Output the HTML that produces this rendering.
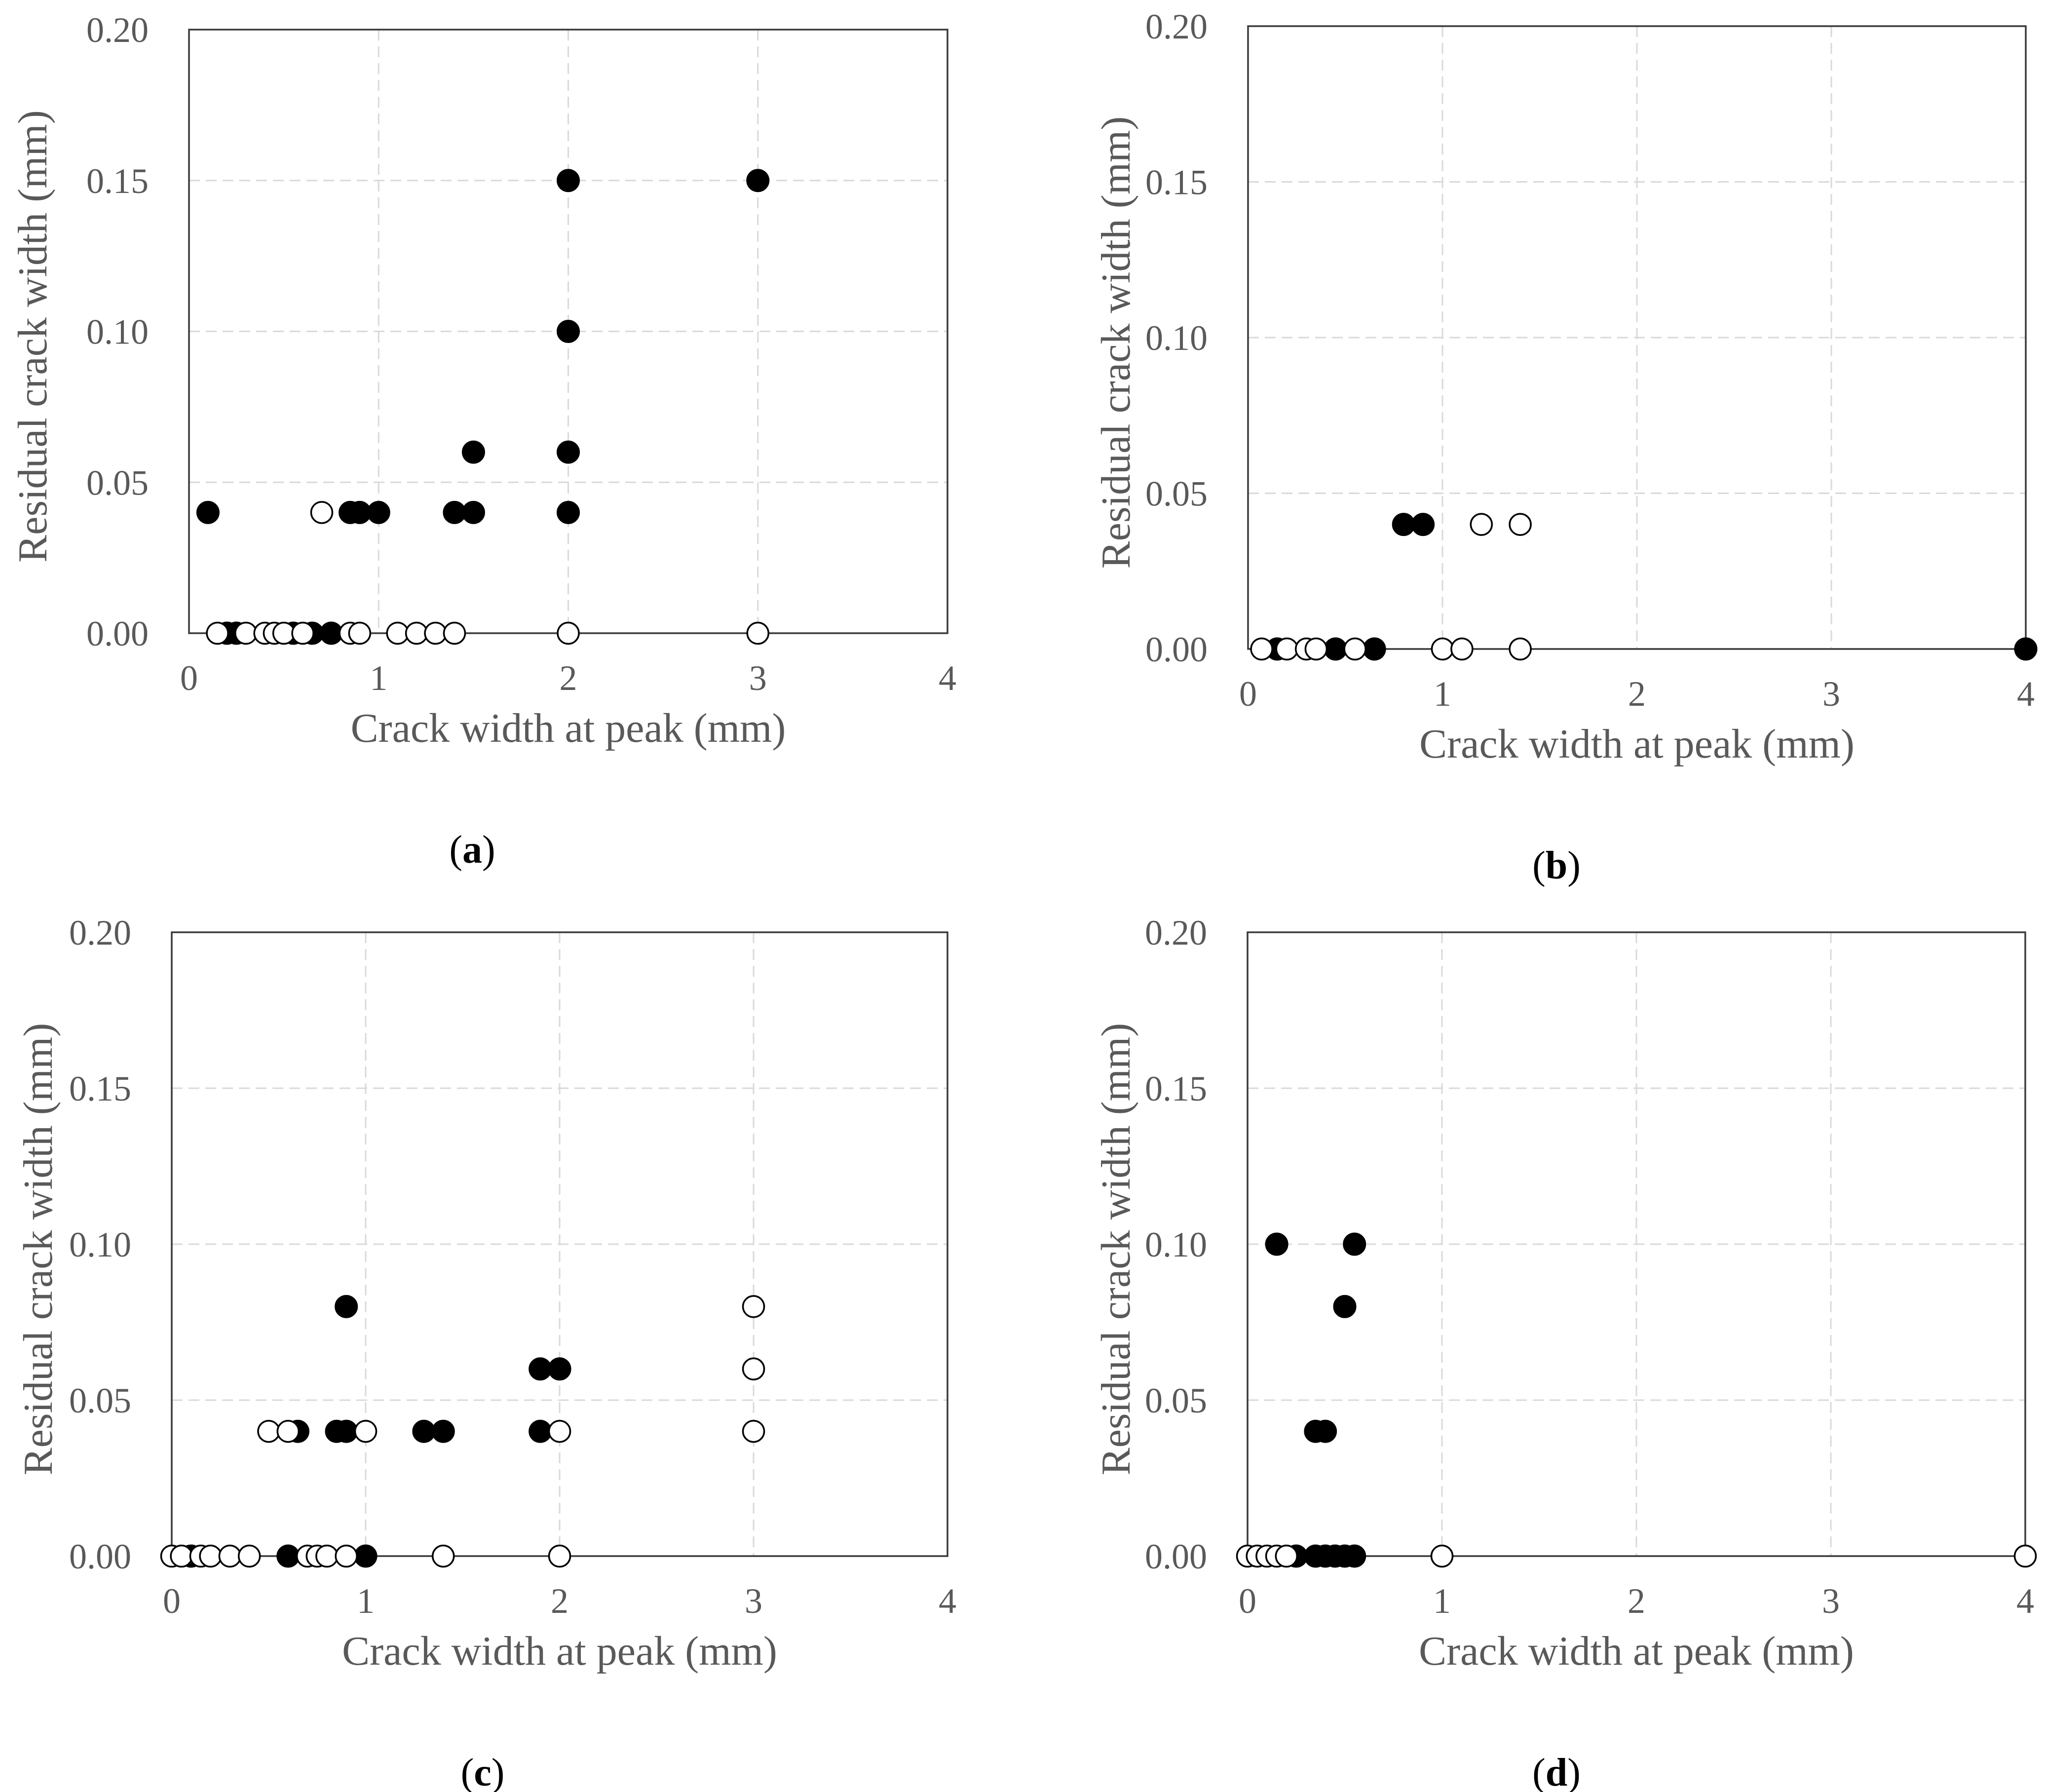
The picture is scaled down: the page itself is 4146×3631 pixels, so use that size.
<!DOCTYPE html>
<html><head><meta charset="utf-8"><style>
html,body{margin:0;padding:0;background:#fff;}
svg{display:block;}
text{font-family:"Liberation Serif",serif;}
</style></head>
<body>
<svg id="fig" width="4146" height="3631" viewBox="0 0 4146 3631" xmlns="http://www.w3.org/2000/svg"></svg>
<script>
// Panel (a)
const aFilledX = [0.1,0.85,0.9,1.0,1.4,1.5,1.5,2,2,2,2,3,0.2,0.25,0.55,0.65,0.75];
const aFilledY = [0.04,0.04,0.04,0.04,0.04,0.04,0.06,0.04,0.06,0.10,0.15,0.15,0,0,0,0,0];
const aOpenX = [0.7,0.15,0.3,0.4,0.45,0.5,0.6,0.85,0.9,1.1,1.2,1.3,1.4,2,3];
const aOpenY = [0.04,0,0,0,0,0,0,0,0,0,0,0,0,0,0];
// Panel (b)
const bFilledX = [0.8,0.9,0.15,0.45,0.65,4];
const bFilledY = [0.04,0.04,0,0,0,0];
const bOpenX = [1.2,1.4,0.07,0.2,0.3,0.35,0.55,1.0,1.1,1.4];
const bOpenY = [0.04,0.04,0,0,0,0,0,0,0,0];
// Panel (c)
const cFilledX = [0.9,0.85,0.9,0.65,1.3,1.4,1.9,1.9,2,0.1,0.6,1.0];
const cFilledY = [0.08,0.04,0.04,0.04,0.04,0.04,0.04,0.06,0.06,0,0,0];
const cOpenX = [0.5,0.6,1.0,2,3,3,3,0,0.05,0.15,0.2,0.3,0.4,0.7,0.75,0.8,0.9,1.4,2];
const cOpenY = [0.04,0.04,0.04,0.04,0.04,0.06,0.08,0,0,0,0,0,0,0,0,0,0,0,0];
// Panel (d)
const dFilledX = [0.15,0.55,0.5,0.35,0.4,0.25,0.35,0.4,0.45,0.5,0.55];
const dFilledY = [0.1,0.1,0.08,0.04,0.04,0,0,0,0,0,0];
const dOpenX = [0,0.05,0.1,0.15,0.2,1,4];
const dOpenY = [0,0,0,0,0,0,0];
// Axes
const xTicks = [0,1,2,3,4];
const yTicks = [0,0.05,0.10,0.15,0.20];
const yTickLabels = ["0.00","0.05","0.10","0.15","0.20"];
const xTitle = "Crack width at peak (mm)";
const yTitle = "Residual crack width (mm)";

const NS = "http://www.w3.org/2000/svg";
const svg = document.getElementById('fig');
function mk(tag, attrs, parent){
  const e = document.createElementNS(NS, tag);
  for (const k in attrs) e.setAttribute(k, attrs[k]);
  (parent||svg).appendChild(e);
  return e;
}
const panels = [
  {id:'a', L:383, R:1920, T:60, B:1283, fx:aFilledX, fy:aFilledY, ox:aOpenX, oy:aOpenY, letterX:957, yTitleX:66},
  {id:'b', L:2529, R:4105, T:53, B:1315, fx:bFilledX, fy:bFilledY, ox:bOpenX, oy:bOpenY, letterX:3154, yTitleX:2261},
  {id:'c', L:348, R:1920, T:1889, B:3153, fx:cFilledX, fy:cFilledY, ox:cOpenX, oy:cOpenY, letterX:978, yTitleX:77},
  {id:'d', L:2528, R:4104, T:1889, B:3153, fx:dFilledX, fy:dFilledY, ox:dOpenX, oy:dOpenY, letterX:3154, yTitleX:2261}
];
panels.forEach(p=>{
  const g = mk('g', {});
  
  
  const sx = v => p.L + (v/4)*(p.R-p.L);
  const sy = v => p.B - (v/0.2)*(p.B-p.T);
  xTicks.forEach(t=>{
    if (t===0||t===4) return;
    const l = mk('line',{x1:sx(t),x2:sx(t),y1:p.T,y2:p.B,stroke:'#d9d9d9','stroke-width':3,'stroke-dasharray':'22 12'},g);
    
    
  });
  yTicks.forEach(t=>{
    if (t===0||t===0.20) return;
    const l = mk('line',{x1:p.L,x2:p.R,y1:sy(t),y2:sy(t),stroke:'#d9d9d9','stroke-width':3,'stroke-dasharray':'22 12'},g);
    
    
  });
  const frame = mk('rect',{x:p.L,y:p.T,width:p.R-p.L,height:p.B-p.T,fill:'none',stroke:'#3a3a3a','stroke-width':3.5},g);
  
  
  xTicks.forEach(t=>{
    const tx = mk('text',{x:sx(t),y:p.B+115,'text-anchor':'middle','font-size':72,fill:'#595959'},g);
    tx.textContent = String(t);
    
    
  });
  yTicks.forEach((t,i)=>{
    const ty = mk('text',{x:p.L-82,y:sy(t)+25,'text-anchor':'end','font-size':72,fill:'#595959'},g);
    ty.textContent = yTickLabels[i];
    
    
  });
  const xt = mk('text',{x:(p.L+p.R)/2,y:p.B+220,'text-anchor':'middle','font-size':84,fill:'#595959'},g);
  xt.textContent = xTitle;
  
  
  const cy = (p.T+p.B)/2 + 10;
  const yt = mk('text',{x:p.yTitleX,y:cy,'text-anchor':'middle','font-size':84,fill:'#595959',transform:`rotate(-90 ${p.yTitleX} ${cy}) translate(0 28)`},g);
  yt.textContent = yTitle;
  
  
  p.fx.forEach((v,i)=>{
    const c = mk('circle',{cx:sx(v),cy:sy(p.fy[i]),r:22,fill:'#000',stroke:'#000','stroke-width':3},g);
    
    
  });
  p.ox.forEach((v,i)=>{
    const c = mk('circle',{cx:sx(v),cy:sy(p.oy[i]),r:21.5,fill:'#fff',stroke:'#000','stroke-width':3.5},g);
    
    
  });
  const lt = mk('text',{x:p.letterX,y:p.B+465,'text-anchor':'middle','font-size':80,fill:'#000'},g);
  lt.innerHTML = '(<tspan font-weight="bold">' + p.id + '</tspan>)';
  
  
});
</script>
</body></html>
